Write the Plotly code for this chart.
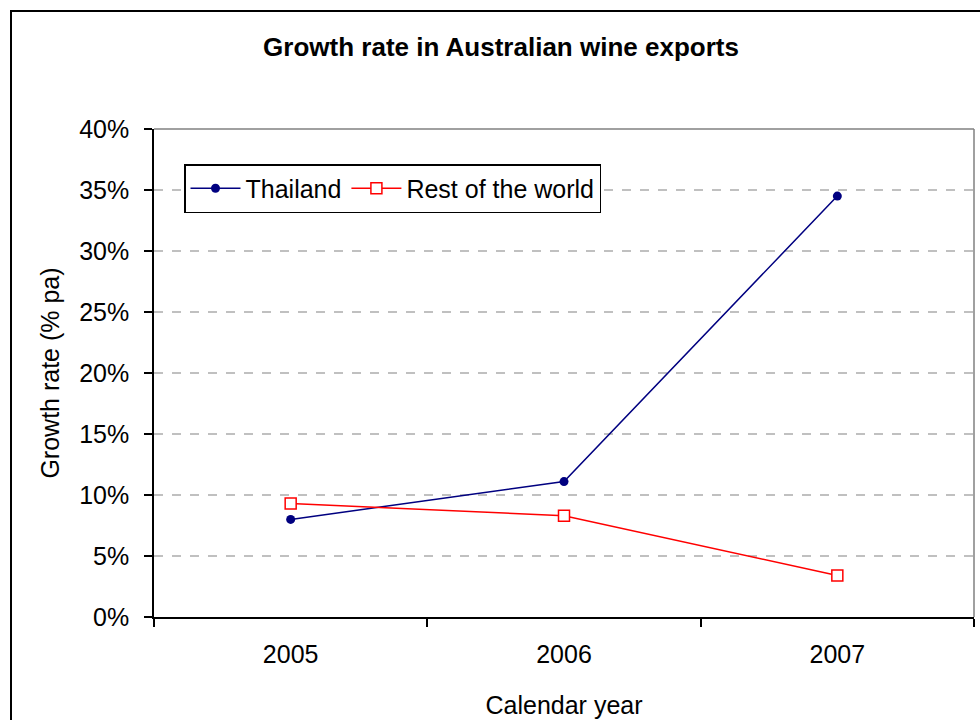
import plotly.graph_objects as go

years = ["2005", "2006", "2007"]
thailand = [0.080, 0.111, 0.345]
rest_of_world = [0.093, 0.083, 0.034]
y_ticks = [0, 0.05, 0.10, 0.15, 0.20, 0.25, 0.30, 0.35, 0.40]
y_tick_labels = ["0%", "5%", "10%", "15%", "20%", "25%", "30%", "35%", "40%"]

FONT = "Liberation Sans, Arial, sans-serif"
FS = 25

fig = go.Figure()
fig.add_trace(go.Scatter(
    x=years, y=thailand, name="Thailand", mode="lines+markers",
    line=dict(color="#000080", width=1.5),
    marker=dict(symbol="circle", size=9, color="#000080"),
))
fig.add_trace(go.Scatter(
    x=years, y=rest_of_world, name="Rest of the world", mode="lines+markers",
    line=dict(color="#FF0000", width=1.5),
    marker=dict(symbol="square", size=11, color="white",
                line=dict(color="#FF0000", width=1.5)),
))

L, R, T, B = 154, 6, 129, 103
W, H = 980, 720
pw, ph = W - L - R, H - T - B

def px_x(p):
    return (p - L) / pw

def px_y(p):
    return (H - B - p) / ph

fig.update_layout(
    width=W, height=H,
    margin=dict(l=L, r=R, t=T, b=B, autoexpand=False),
    paper_bgcolor="white", plot_bgcolor="white",
    font=dict(family=FONT, size=FS, color="black"),
    title=dict(text="<b>Growth rate in Australian wine exports</b>",
               font=dict(family=FONT, size=26, color="black"),
               x=501 / W, xanchor="center", y=1 - 47 / H, yanchor="middle"),
    showlegend=True,
    legend=dict(orientation="h", x=px_x(184), y=px_y(164),
                xanchor="left", yanchor="top",
                bordercolor="black", borderwidth=1.5, bgcolor="white",
                font=dict(family=FONT, size=FS, color="black"),
                itemwidth=50, tracegroupgap=0),
    xaxis=dict(
        type="category", range=[-0.5, 2.5], automargin=False,
        tickson="boundaries", ticks="outside", ticklen=8, tickwidth=1.5,
        tickcolor="black", showline=True, linecolor="black", linewidth=1.5,
        showgrid=False, zeroline=False, ticklabelstandoff=14,
        tickfont=dict(family=FONT, size=FS),
        title=dict(text="Calendar year", font=dict(family=FONT, size=FS), standoff=30),
    ),
    yaxis=dict(
        range=[0, 0.40], tickvals=y_ticks, ticktext=y_tick_labels, automargin=False,
        ticks="outside", ticklen=8, tickwidth=1.5, tickcolor="black",
        showline=True, linecolor="black", linewidth=1.5, ticklabelstandoff=10,
        showgrid=True, gridcolor="#c0c0c0", gridwidth=1.5, griddash="dash",
        zeroline=False,
        tickfont=dict(family=FONT, size=FS),
        title=dict(text="Growth rate (% pa)", font=dict(family=FONT, size=FS), standoff=12),
    ),
    shapes=[
        dict(type="line", xref="paper", yref="paper", x0=0, x1=1, y0=1, y1=1,
             line=dict(color="#808080", width=1.5)),
        dict(type="line", xref="paper", yref="paper", x0=1, x1=1, y0=0, y1=1,
             line=dict(color="#808080", width=1.5)),
        dict(type="rect", xref="paper", yref="paper",
             x0=px_x(11), x1=px_x(1100), y0=px_y(900), y1=px_y(11),
             line=dict(color="black", width=2), fillcolor="rgba(0,0,0,0)",
             layer="below"),
    ],
)

fig.write_html("out.html")
